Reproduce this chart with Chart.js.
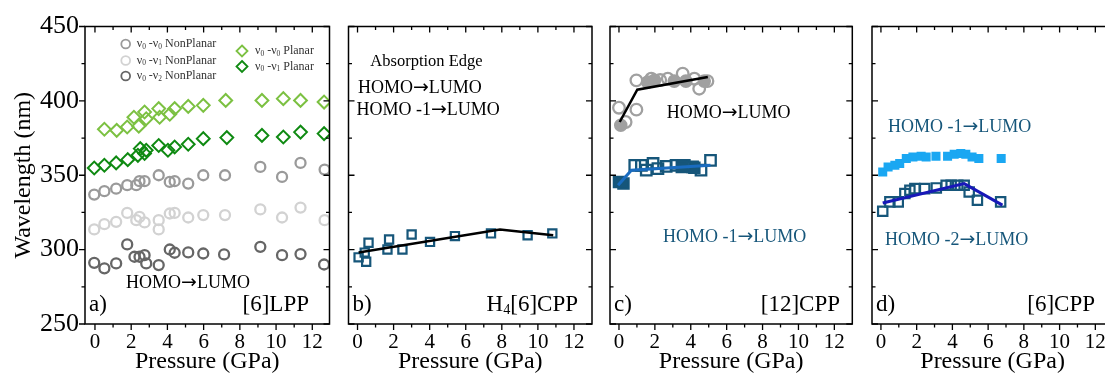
<!DOCTYPE html>
<html>
<head>
<meta charset="utf-8">
<script src="https://cdn.jsdelivr.net/npm/chart.js@4.4.1/dist/chart.umd.min.js"></script>
<style>
  body { margin: 0; width: 1105px; height: 376px; overflow: hidden; background: #fff; position: relative; }
  canvas { position: absolute; top: 0; }
</style>
</head>
<body>
<canvas id="panelA" width="340" height="376" style="left:0px"></canvas>
<canvas id="panelB" width="260" height="376" style="left:340px"></canvas>
<canvas id="panelC" width="262" height="376" style="left:600px"></canvas>
<canvas id="panelD" width="260" height="376" style="left:862px"></canvas>
<script>
// ---- data (pressure in GPa, wavelength in nm) ----
// a) [6]LPP
const lppNp00X = [-0.04, 0.52, 1.17, 1.78, 2.28, 2.46, 2.74, 3.52, 4.13, 4.4, 5.15, 5.98, 7.18, 9.13, 10.33, 11.35, 12.68];
const lppNp00Y = [337, 339.3, 341, 343.3, 343.3, 346, 346, 350, 345.5, 346, 344.4, 350, 350, 355.6, 348.9, 358.3, 353.8];
const lppNp01X = [-0.04, 0.52, 1.17, 1.78, 2.28, 2.46, 2.74, 3.52, 3.52, 4.13, 4.4, 5.15, 5.98, 7.18, 9.13, 10.33, 11.35, 12.68];
const lppNp01Y = [313.6, 317.1, 318.7, 324.7, 319.8, 322, 318.3, 319.8, 313.6, 324.3, 324.7, 321.6, 323.2, 323.2, 327, 321.6, 328.3, 319.8];
const lppNp02X = [-0.04, 0.52, 1.17, 1.78, 2.18, 2.46, 2.74, 2.83, 3.52, 4.13, 4.4, 5.15, 5.98, 7.13, 9.13, 10.33, 11.35, 12.65];
const lppNp02Y = [291.1, 287.4, 290.7, 303.5, 295.2, 295.2, 296.3, 290.7, 289.6, 300.1, 297.9, 298.1, 297.4, 296.8, 301.9, 296.3, 297, 290];
const lppP00X = [0.52, 1.2, 1.78, 2.15, 2.42, 2.74, 2.83, 3.52, 3.57, 4.13, 4.4, 5.15, 5.98, 7.22, 9.22, 10.4, 11.35, 12.65];
const lppP00Y = [380.9, 380.2, 382.4, 389, 383, 392.5, 388, 394.8, 389, 391, 394.8, 396.3, 397, 400.3, 400.3, 401.5, 400.3, 399.2];
const lppP01X = [-0.04, 0.52, 1.17, 1.81, 2.37, 2.5, 2.74, 2.83, 3.52, 4.03, 4.4, 5.15, 5.98, 7.28, 9.22, 10.4, 11.35, 12.65];
const lppP01Y = [354.9, 356.7, 358.3, 360.5, 363.4, 367.9, 364.6, 366.8, 370, 366.8, 369, 370.8, 374.6, 375.3, 376.8, 375.7, 379, 378];

// b) H4[6]CPP
const h4X = [0.06, 0.4, 0.48, 0.61, 1.66, 1.75, 2.49, 3.0, 4.02, 5.4, 7.4, 9.43, 10.8];
const h4Y = [294.8, 298, 291.8, 304.6, 300.1, 306.8, 300.1, 310.2, 305.2, 309.1, 310.9, 309.7, 310.9];
const h4FitX = [0.06, 7.9, 10.85];
const h4FitY = [298.1, 313.6, 309.7];

// c) [12]CPP
const c12HlOpenX = [0, 0.37, 0.97, 0.97, 1.8, 2.3, 2.72, 3.55, 4.2, 4.47, 4.93];
const c12HlOpenY = [395.4, 385.8, 394.1, 413.8, 414.9, 414, 414.9, 418.3, 414.9, 408.2, 413.3];
const c12HlFullX = [0.1, 1.6, 1.98, 3.08, 3.73, 4.75];
const c12HlFullY = [383.6, 412.6, 413.8, 413.3, 413.3, 413.3];
const c12HlFitX = [0.04, 1.02, 4.95];
const c12HlFitY = [385.8, 407.5, 416];
const c12H1OpenX = [0.88, 1.25, 1.52, 1.9, 2.17, 2.63, 3.18, 3.64, 4.1, 4.57, 5.1];
const c12H1OpenY = [356.7, 356.7, 353.4, 357.9, 354.5, 356, 356.7, 356.7, 355.6, 353.4, 360];
const c12H1FullX = [0, 0.25, 3.5, 4.2];
const c12H1FullY = [345.5, 344.5, 355.5, 355];
const c12H1FitX = [-0.05, 0.69, 5.1];
const c12H1FitY = [343.3, 353.4, 356.7];

// d) [6]CPP
const c6H1X = [0.1, 0.4, 0.78, 1.05, 1.42, 1.79, 2.25, 2.53, 3.08, 3.73, 4.1, 4.47, 4.75, 5.1, 5.48, 6.73];
const c6H1Y = [352.2, 355.6, 356.7, 357.9, 361.2, 362.3, 362.8, 362.3, 362.8, 362.8, 364.1, 364.6, 364.1, 362.3, 361.2, 361.2];
const c6H2X = [0.1, 0.5, 0.97, 1.34, 1.62, 1.9, 2.45, 3.1, 3.65, 3.93, 4.3, 4.66, 4.94, 5.4, 6.7];
const c6H2Y = [325.8, 332.1, 332.1, 337.7, 339.9, 341, 341, 341.5, 343.3, 343.3, 343.3, 343.3, 338.8, 333.2, 332.1];
const c6H2FitX = [0.1, 4.66, 6.8];
const c6H2FitY = [331.4, 344.4, 329.9];

const yTicks = [250, 300, 350, 400, 450];

const SERIF = '"Liberation Serif", "Times New Roman", serif';
const ARROW_FONT = '"DejaVu Sans", sans-serif';
const TEAL = '#16567a';

function pts(xs, ys) {
    return xs.map((x, i) => ({ x: x, y: ys[i] }));
}

function markers(xs, ys, style, radius, color, fill, width) {
    return {
        data: pts(xs, ys), showLine: false, pointStyle: style, pointRadius: radius,
        borderColor: color, backgroundColor: fill || 'rgba(0,0,0,0)', borderWidth: width === undefined ? 2 : width
    };
}

function fitLine(xs, ys, color, width) {
    return { data: pts(xs, ys), showLine: true, pointRadius: 0, borderColor: color, borderWidth: width, fill: false };
}

// "HOMO -1 -> LUMO" style label as segments
function transition(from) {
    return [from, { t: '\u2192', arrow: true }, 'LUMO'];
}

function segFont(p, size) {
    if (p.sub) return (size * 0.62) + 'px ' + SERIF;
    if (p.arrow) return (size * 1.05) + 'px ' + ARROW_FONT;
    return size + 'px ' + SERIF;
}

// draws text made of segments (plain, subscript, arrow)
function richText(ctx, segs, x, y, size, align) {
    const parts = segs.map(s => typeof s === 'string' ? { t: s } : s);
    let total = 0;
    parts.forEach(p => {
        ctx.font = segFont(p, size);
        p.w = ctx.measureText(p.t).width;
        total += p.w;
    });
    let cx = align === 'right' ? x - total : align === 'center' ? x - total / 2 : x;
    ctx.textAlign = 'left';
    ctx.textBaseline = 'middle';
    parts.forEach(p => {
        ctx.font = segFont(p, size);
        ctx.fillText(p.t, cx, p.sub ? y + size * 0.24 : y);
        cx += p.w;
    });
}

// frame + tick marks (bottom outward, top/right inward, left per panel)
const frame = {
    id: 'frame',
    afterDraw(chart, args, opts) {
        const { ctx, chartArea: a } = chart;
        const x = chart.scales.x, y = chart.scales.y;
        ctx.save();
        ctx.strokeStyle = '#000';
        ctx.lineWidth = 1.5;
        ctx.strokeRect(a.left, a.top, a.right - a.left, a.bottom - a.top);
        ctx.lineWidth = 1.3;
        ctx.beginPath();
        for (let v = 0; v <= 13; v++) {
            const px = x.getPixelForValue(v);
            if (px <= a.left || px >= a.right) continue;
            const len = v % 2 === 0 ? 6 : 3.5;
            ctx.moveTo(px, a.bottom); ctx.lineTo(px, a.bottom + len);
            ctx.moveTo(px, a.top); ctx.lineTo(px, a.top + len);
        }
        for (let v = 250; v <= 450; v += 25) {
            const py = y.getPixelForValue(v);
            const len = v % 50 === 0 ? 6 : 3.5;
            if (opts.leftOut) { ctx.moveTo(a.left - len, py); ctx.lineTo(a.left, py); }
            else { ctx.moveTo(a.left, py); ctx.lineTo(a.left + len, py); }
            ctx.moveTo(a.right, py); ctx.lineTo(a.right - len, py);
        }
        ctx.stroke();
        ctx.restore();
    }
};

// annotations and the hand-made legend of panel a
const panelText = {
    id: 'panelText',
    afterDraw(chart, args, opts) {
        const { ctx, chartArea: a } = chart;
        ctx.save();
        (opts.items || []).forEach(it => {
            ctx.fillStyle = it.color || '#000';
            richText(ctx, it.segs, a.left + it.dx, it.y, it.size, it.align);
        });
        (opts.legend || []).forEach(lg => {
            const cx = a.left + lg.dx, cy = lg.y;
            ctx.strokeStyle = lg.color;
            ctx.lineWidth = 1.8;
            ctx.beginPath();
            if (lg.shape === 'circle') ctx.arc(cx, cy, 4.4, 0, Math.PI * 2);
            else { ctx.moveTo(cx, cy - 5.5); ctx.lineTo(cx + 5.5, cy); ctx.lineTo(cx, cy + 5.5); ctx.lineTo(cx - 5.5, cy); ctx.closePath(); }
            ctx.stroke();
            ctx.fillStyle = '#333';
            richText(ctx, lg.segs, cx + lg.textGap, cy, 12, 'left');
        });
        ctx.restore();
    }
};

const labelTexts = (tag, name) => [
    { segs: [tag], dx: 4, y: 305, size: 23 },
    { segs: name.segs, dx: name.right, y: 305, size: 23, align: 'right' }
];

function makePanel(id, datasets, cfg) {
    return new Chart(document.getElementById(id), {
        type: 'scatter',
        data: { datasets: datasets },
        options: {
            responsive: false,
            animation: false,
            devicePixelRatio: 1,
            layout: { padding: { top: 26.5, left: cfg.padL, right: cfg.padR, bottom: 0 } },
            plugins: {
                legend: { display: false },
                tooltip: { enabled: false },
                frame: { leftOut: cfg.showY },
                panelText: { items: cfg.texts, legend: cfg.legend }
            },
            scales: {
                x: {
                    type: 'linear', min: cfg.xmin, max: cfg.xmax,
                    grid: { display: false, drawTicks: false },
                    border: { display: false },
                    ticks: {
                        stepSize: 2, includeBounds: false, autoSkip: false, maxRotation: 0,
                        color: '#000', padding: 6, font: { family: SERIF, size: 21 }
                    },
                    title: {
                        display: true, text: 'Pressure (GPa)', color: '#000',
                        font: { family: SERIF, size: 24, lineHeight: 1.2 }, padding: { top: 0, bottom: 0 }
                    },
                    afterFit: s => { s.height = 52; }
                },
                y: {
                    display: cfg.showY, min: 250, max: 450,
                    grid: { display: false, drawTicks: false },
                    border: { display: false },
                    afterBuildTicks: s => { s.ticks = yTicks.map(v => ({ value: v })); },
                    ticks: { color: '#000', padding: 6, font: { family: SERIF, size: 26 } },
                    title: {
                        display: true, text: 'Wavelength (nm)', color: '#000',
                        font: { family: SERIF, size: 24, lineHeight: 1.2 }, padding: { top: 9, bottom: 0 }
                    },
                    afterFit: s => { s.width = cfg.showY ? 85 : 0; }
                }
            }
        },
        plugins: [frame, panelText]
    });
}

makePanel('panelA', [
    markers(lppP00X, lppP00Y, 'rectRot', 6.4, '#7cc142', null, 2),
    markers(lppP01X, lppP01Y, 'rectRot', 6.4, '#0f8a12', null, 2),
    markers(lppNp00X, lppNp00Y, 'circle', 5, '#9a9a9a', null, 2.3),
    markers(lppNp01X, lppNp01Y, 'circle', 5, '#d2d2d2', null, 2.3),
    markers(lppNp02X, lppNp02Y, 'circle', 5, '#666666', null, 2.3)
], {
    padL: 0, padR: 10.5, xmin: -0.55, xmax: 12.95, showY: true,
    texts: [{ segs: transition('HOMO'), dx: 103, y: 283, size: 18, align: 'center' }]
        .concat(labelTexts('a)', { segs: ['[6]LPP'], right: 224 })),
    legend: [
        { shape: 'circle', color: '#9a9a9a', dx: 40.7, y: 44, textGap: 11, segs: ['\u03bd', { t: '0', sub: true }, ' -\u03bd', { t: '0', sub: true }, ' NonPlanar'] },
        { shape: 'circle', color: '#d2d2d2', dx: 40.7, y: 60.5, textGap: 11, segs: ['\u03bd', { t: '0', sub: true }, ' -\u03bd', { t: '1', sub: true }, ' NonPlanar'] },
        { shape: 'circle', color: '#666666', dx: 40.7, y: 76, textGap: 11, segs: ['\u03bd', { t: '0', sub: true }, ' -\u03bd', { t: '2', sub: true }, ' NonPlanar'] },
        { shape: 'diamond', color: '#7cc142', dx: 157, y: 51, textGap: 13, segs: ['\u03bd', { t: '0', sub: true }, ' -\u03bd', { t: '0', sub: true }, ' Planar'] },
        { shape: 'diamond', color: '#0f8a12', dx: 157, y: 66.5, textGap: 13, segs: ['\u03bd', { t: '0', sub: true }, ' -\u03bd', { t: '1', sub: true }, ' Planar'] }
    ]
});

makePanel('panelB', [
    fitLine(h4FitX, h4FitY, '#000', 2.5),
    markers(h4X, h4Y, 'rect', 5.8, TEAL, null, 2.2)
], {
    padL: 8.5, padR: 7.5, xmin: -0.5, xmax: 13, showY: false,
    texts: [
        { segs: ['Absorption Edge'], dx: 78, y: 62, size: 16.5, align: 'center' },
        { segs: transition('HOMO'), dx: 9.5, y: 88, size: 18 },
        { segs: transition('HOMO -1'), dx: 8, y: 110, size: 18 }
    ].concat(labelTexts('b)', { segs: ['H', { t: '4', sub: true }, '[6]CPP'], right: 229.5 }))
});

makePanel('panelC', [
    fitLine(c12HlFitX, c12HlFitY, '#000', 2.5),
    fitLine(c12H1FitX, c12H1FitY, '#1a6cc0', 3),
    markers(c12HlFullX, c12HlFullY, 'circle', 5.8, '#a0a0a0', '#a0a0a0'),
    markers(c12HlOpenX, c12HlOpenY, 'circle', 5.8, '#a0a0a0', null, 2.3),
    markers(c12H1FullX, c12H1FullY, 'rect', 7.4, TEAL, TEAL),
    markers(c12H1OpenX, c12H1OpenY, 'rect', 7.4, TEAL, null, 2.3)
], {
    padL: 10, padR: 8, xmin: -0.5, xmax: 13, showY: false,
    texts: [
        { segs: transition('HOMO'), dx: 56.7, y: 113, size: 18 },
        { segs: transition('HOMO -1'), dx: 53, y: 237, size: 18, color: TEAL }
    ].concat(labelTexts('c)', { segs: ['[12]CPP'], right: 230 }))
});

makePanel('panelD', [
    fitLine(c6H2FitX, c6H2FitY, '#1818b8', 3),
    markers(c6H1X, c6H1Y, 'rect', 6.4, '#1aa7f2', '#1aa7f2', 0),
    markers(c6H2X, c6H2Y, 'rect', 6.6, TEAL, null, 2.2)
], {
    padL: 10, padR: 6, xmin: -0.5, xmax: 13, showY: false,
    texts: [
        { segs: transition('HOMO -1'), dx: 16, y: 127, size: 18, color: TEAL },
        { segs: transition('HOMO -2'), dx: 13, y: 240, size: 18, color: TEAL }
    ].concat(labelTexts('d)', { segs: ['[6]CPP'], right: 223 }))
});
</script>
</body>
</html>
